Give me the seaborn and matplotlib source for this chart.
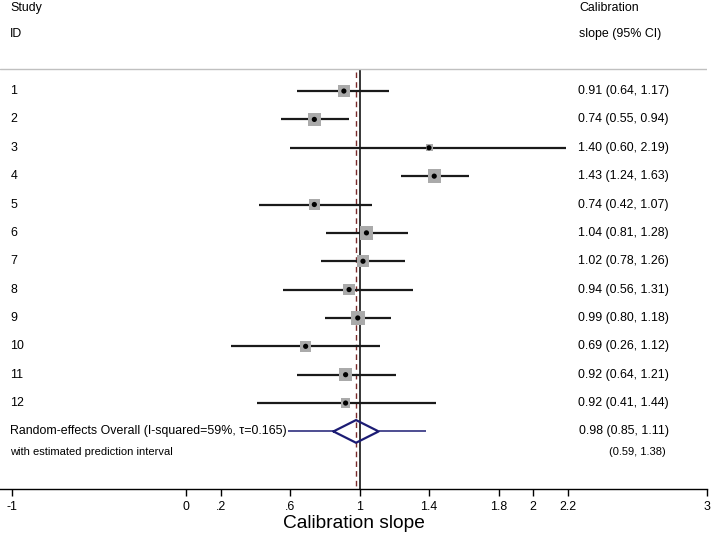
import numpy as np
import pandas as pd
import seaborn as sns
import matplotlib.pyplot as plt

sns.set_style("white")
plt.rcParams['font.family'] = ['Liberation Sans', 'DejaVu Sans']
plt.rcParams['text.color'] = 'black'
plt.rcParams['xtick.color'] = 'black'
plt.rcParams['axes.labelcolor'] = 'black'

# study data
study_id = ["1", "2", "3", "4", "5", "6", "7", "8", "9", "10", "11", "12"]
slope = [0.91, 0.74, 1.40, 1.43, 0.74, 1.04, 1.02, 0.94, 0.99, 0.69, 0.92, 0.92]
lower = [0.64, 0.55, 0.60, 1.24, 0.42, 0.81, 0.78, 0.56, 0.80, 0.26, 0.64, 0.41]
upper = [1.17, 0.94, 2.19, 1.63, 1.07, 1.28, 1.26, 1.31, 1.18, 1.12, 1.21, 1.44]
# box side (pixels), ~ study weight
box_side = [12.3, 13.3, 7.0, 13.3, 11.3, 13.3, 12.3, 11.7, 14.3, 10.7, 12.7, 9.3]

# pooled
pooled = 0.98
pooled_lo, pooled_hi = 0.85, 1.11
pred_lo, pred_hi = 0.59, 1.38
overall_label = "Random-effects Overall (I-squared=59%, \u03c4=0.165)"
pred_label = "with estimated prediction interval"

xticks = [-1, 0, .2, .6, 1, 1.4, 1.8, 2, 2.2, 3]
xticklabels = ["-1", "0", ".2", ".6", "1", "1.4", "1.8", "2", "2.2", "3"]

df = pd.DataFrame({"id": study_id, "slope": slope, "lower": lower, "upper": upper,
                   "side": box_side})
df["row"] = np.arange(1, len(df) + 1)
df["size"] = (df["side"] * 72 / 100) ** 2
overall_row = len(df) + 1

fig = plt.figure(figsize=(7.11, 5.35), dpi=100)
ax = fig.add_axes([0, 46 / 535, 707 / 711, 489 / 535])
ax.set_xlim(-1 - 12 / 173.5, 3)
ax.set_ylim(15.03, -2.21)

navy = "#1c1c74"
sep_row = 0.225

# reference lines
ax.vlines(1, sep_row, 15.03, color="black", lw=1.1, zorder=1)
ax.vlines(pooled, sep_row + 0.1, 15.03, color="#7a2a2a", lw=1.0,
          linestyles=(0, (4, 3)), zorder=1)

# CI lines
ax.hlines(df["row"], df["lower"], df["upper"], color="#1a1a1a", lw=1.6, zorder=2)

# boxes and dots
sns.scatterplot(data=df, x="slope", y="row", size="size", sizes=(df["size"].min(), df["size"].max()),
                marker="s", color="#aaaaaa", edgecolor="none", legend=False, ax=ax, zorder=3)
sns.scatterplot(data=df, x="slope", y="row", s=14, color="black", edgecolor="none",
                legend=False, ax=ax, zorder=4)

# overall diamond and prediction interval
ax.hlines(overall_row, pred_lo, pooled_lo, color=navy, lw=1.1, zorder=2)
ax.hlines(overall_row, pooled_hi, pred_hi, color=navy, lw=1.1, zorder=2)
ax.plot([pooled_lo, pooled, pooled_hi, pooled, pooled_lo],
        [overall_row, overall_row - 0.4, overall_row, overall_row + 0.4, overall_row],
        color=navy, lw=1.6, zorder=3)

# separator
ax.axhline(sep_row, color="#c0c0c0", lw=1.0)

# left text
lx = -1.01
fs = 8.9
ax.text(lx, -1.94, "Study", fontsize=fs, va="center", ha="left")
ax.text(lx, -1.01, "ID", fontsize=fs, va="center", ha="left")
for _, r in df.iterrows():
    ax.text(lx, r["row"], r["id"], fontsize=fs, va="center", ha="left")
ax.text(lx, overall_row, overall_label, fontsize=fs, va="center", ha="left")
ax.text(lx, overall_row + 0.74, pred_label, fontsize=8, va="center", ha="left")

# right text
rx_left = 2.266
rx_right = 2.78
ax.text(rx_left, -1.94, "Calibration", fontsize=fs, va="center", ha="left")
ax.text(rx_left, -1.01, "slope (95% CI)", fontsize=fs, va="center", ha="left")
for _, r in df.iterrows():
    ax.text(rx_right, r["row"], f"{r['slope']:.2f} ({r['lower']:.2f}, {r['upper']:.2f})",
            fontsize=fs, va="center", ha="right")
ax.text(rx_right, overall_row, f"{pooled:.2f} ({pooled_lo:.2f}, {pooled_hi:.2f})",
        fontsize=fs, va="center", ha="right")
ax.text(rx_right - 0.02, overall_row + 0.74, f"({pred_lo:.2f}, {pred_hi:.2f})",
        fontsize=8, va="center", ha="right")

# axis styling
for s in ["top", "right", "left"]:
    ax.spines[s].set_visible(False)
ax.spines["bottom"].set_color("black")
ax.spines["bottom"].set_linewidth(1.0)
ax.set_yticks([])
ax.set_xticks(xticks)
ax.set_xticklabels(xticklabels, fontsize=fs)
ax.tick_params(axis="x", direction="out", length=5, width=1, pad=4, bottom=True)
ax.set_xlabel("Calibration slope", fontsize=13.8, va="center")
ax.xaxis.set_label_coords(0.5, -34.5 / 489)
ax.set_ylabel("")

plt.savefig("out.png", dpi=100)
